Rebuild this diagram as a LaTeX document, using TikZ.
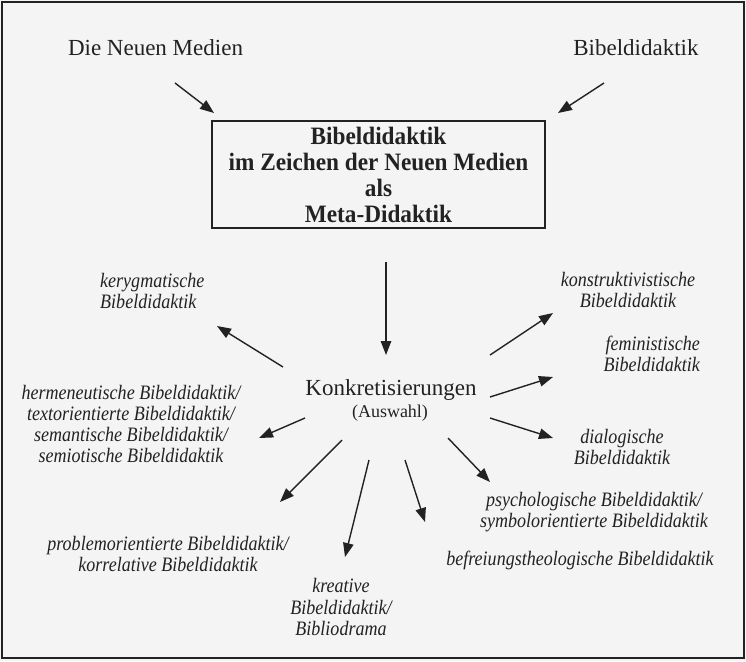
\documentclass[tikz,border=0pt]{standalone}
\usepackage{fontspec}
\setmainfont{Liberation Serif}
\newfontfamily\itfont{Liberation Serif}[FakeStretch=0.88]
\newfontfamily\bffont{Liberation Serif}[FakeStretch=0.93]
\usetikzlibrary{arrows.meta}
\definecolor{ink}{HTML}{222222}
\definecolor{paper}{HTML}{F4F4F4}
\begin{document}
\begin{tikzpicture}[x=1pt,y=-1pt,
  lbl/.style={font=\itfont\fontsize{20.5}{21.3}\selectfont\itshape, text=ink, inner sep=0pt, align=center},
  big/.style={font=\fontsize{23}{26}\selectfont, text=ink, inner sep=0pt},
  arr/.style={draw=ink, line width=1.4pt, -{Triangle[length=14pt,width=10.5pt]}}]
\fill[paper] (0,0) rectangle (746,661);
\useasboundingbox (0,0) rectangle (746,661);
\draw[ink, line width=2pt] (2,2) rectangle (744,658);

% top sources
\node[big] (medien) at (155.5,48) {Die Neuen Medien};
\node[big] (bibel) at (636,48) {Bibeldidaktik};

% central box
\node[draw=ink, line width=1.4pt, minimum width=333pt, minimum height=107pt,
      inner sep=0pt, align=center, text=ink,
      font=\bffont\fontsize{25}{26}\selectfont\bfseries] (meta) at (378.5,174.5)
  {Bibeldidaktik\\im Zeichen der Neuen Medien\\als\\Meta-Didaktik};

% centre
\node[big] (konk) at (391,390) {Konkretisierungen};
\node[font=\fontsize{18}{21}\selectfont, text=ink, inner sep=0pt] (ausw) at (390,413) {(Auswahl)};

% branches
\node[lbl, align=left, anchor=west] (kery) at (100,291) {kerygmatische\\Bibeldidaktik};
\node[lbl] (konstr) at (628,290) {konstruktivistische\\Bibeldidaktik};
\node[lbl, align=right, anchor=east] (femin) at (700,354) {feministische\\Bibeldidaktik};
\node[lbl] (herm) at (131,424) {hermeneutische Bibeldidaktik/\\textorientierte Bibeldidaktik/\\semantische Bibeldidaktik/\\semiotische Bibeldidaktik};
\node[lbl] (dial) at (622,447) {dialogische\\Bibeldidaktik};
\node[lbl] (psych) at (594,512) {psychologische Bibeldidaktik/\\symbolorientierte Bibeldidaktik};
\node[lbl] (befr) at (580,560) {befreiungstheologische Bibeldidaktik};
\node[lbl] (prob) at (168,554) {problemorientierte Bibeldidaktik/\\korrelative Bibeldidaktik};
\node[lbl] (kreat) at (341,607) {kreative\\Bibeldidaktik/\\Bibliodrama};

% arrow end points
\coordinate (medienT) at (175,83);   \coordinate (medienH) at (214,113);
\coordinate (bibelT) at (604,83);    \coordinate (bibelH) at (558,113);
\coordinate (metaT) at (386,262);    \coordinate (metaH) at (386,355);
\coordinate (keryT) at (283,367);    \coordinate (keryH) at (217,326);
\coordinate (hermT) at (305,418);    \coordinate (hermH) at (259,438);
\coordinate (probT) at (342,440);    \coordinate (probH) at (280,502);
\coordinate (kreatT) at (369,460);   \coordinate (kreatH) at (345,557);
\coordinate (befrT) at (405,460);    \coordinate (befrH) at (425,522);
\coordinate (psychT) at (448,438);   \coordinate (psychH) at (490,482);
\coordinate (dialT) at (490,418);    \coordinate (dialH) at (553,438);
\coordinate (feminT) at (490,397);   \coordinate (feminH) at (553,377);
\coordinate (konstrT) at (490,355);  \coordinate (konstrH) at (553,313);

\draw[arr] (medienT) -- (medienH);
\draw[arr] (bibelT) -- (bibelH);
\draw[arr] (metaT) -- (metaH);
\draw[arr] (keryT) -- (keryH);
\draw[arr] (hermT) -- (hermH);
\draw[arr] (probT) -- (probH);
\draw[arr] (kreatT) -- (kreatH);
\draw[arr] (befrT) -- (befrH);
\draw[arr] (psychT) -- (psychH);
\draw[arr] (dialT) -- (dialH);
\draw[arr] (feminT) -- (feminH);
\draw[arr] (konstrT) -- (konstrH);
\end{tikzpicture}
\end{document}
